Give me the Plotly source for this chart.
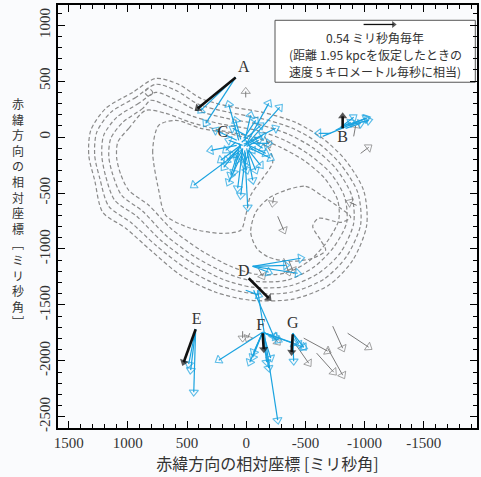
import plotly.graph_objects as go

# ---------------- data (milli-arcseconds) ----------------
x_ticks = [1500, 1000, 500, 0, -500, -1000, -1500]
x_ticktext = ["1500", "1000", "500", "0", "-500", "-1000", "-1500"]
y_ticks = [1000, 500, 0, -500, -1000, -1500, -2000, -2500]
y_ticktext = ["1000", "500", "0", "-500", "-1000", "-1500", "-2000", "-2500"]

# dashed contours
c1_x = [764, 959, 1187, 1313, 1330, 1280, 1212, 1018, 807, 553, 258, -38, -393, -697, -900, -1018, -992, -840, -646, -418, -139, 148, 384, 570, 764]
c1_y = [524, 399, 256, 60, -163, -387, -672, -815, -1012, -1235, -1387, -1458, -1449, -1324, -1101, -788, -476, -208, -12, 131, 221, 274, 346, 471, 524]
c2_x = [764, 933, 1144, 1263, 1280, 1237, 1161, 976, 764, 511, 232, -38, -376, -655, -849, -967, -942, -798, -612, -393, -122, 148, 401, 595, 764]
c2_y = [471, 354, 221, 42, -163, -369, -619, -762, -967, -1172, -1324, -1396, -1387, -1271, -1065, -780, -494, -244, -56, 78, 167, 221, 292, 417, 471]
c3_x = [764, 908, 1094, 1204, 1220, 1187, 1111, 925, 722, 469, 198, -55, -359, -612, -798, -908, -891, -756, -570, -359, -106, 165, 418, 621, 764]
c3_y = [399, 301, 176, 15, -163, -351, -565, -708, -922, -1119, -1271, -1342, -1333, -1217, -1030, -771, -521, -279, -101, 24, 113, 167, 238, 346, 399]
c4_x = [807, 874, 1043, 1144, 1161, 1128, 1052, 874, 680, 427, 165, -63, -342, -570, -739, -849, -832, -714, -528, -325, -89, 198, 452, 655, 807]
c4_y = [328, 256, 131, -12, -172, -333, -521, -663, -878, -1074, -1217, -1288, -1280, -1163, -985, -762, -538, -324, -154, -29, 60, 113, 185, 274, 328]
c5_x = [849, 992, 1085, 1094, 1060, 992, 823, 638, 384, 131, -80, -325, -528, -680, -781, -773, -663, -486, -291, -72, 215, 469, 680, 849]
c5_y = [238, 78, -47, -190, -333, -476, -610, -815, -1012, -1155, -1226, -1217, -1110, -940, -744, -565, -369, -208, -92, -3, 60, 131, 212, 238]
c6_x = [739, 790, 739, 680, 469, 215, 46, 4, -38, -139, -224, -190, -55, 148, 384, 595, 739]
c6_y = [104, -119, -476, -699, -815, -860, -833, -699, -521, -369, -226, -101, -29, 33, 78, 149, 104]
c7_x = [-334, -503, -646, -798, -883, -798, -612, -562, -629, -671, -562, -376, -190, -89, -38, -80, -190, -334]
c7_y = [-476, -440, -529, -637, -717, -762, -726, -797, -922, -1012, -1083, -1110, -1074, -994, -851, -672, -547, -476]
c8_x = [823, 790, 823, 857, 823]
c8_y = [435, 399, 363, 399, 435]

# blue proper-motion arrows: start (x0, y0) -> end (x1, y1)
blue_x0 = [89, 89,
           63, 4, -13, 46, 30, 13, -4, -21, -38, 46, 63, 80, 21, 38, 55, 4, -13, 80, 21, 13, 46, 30, -21, 89, -38, 21, 63, 4, -38, 38,
           46, 4, 63, -30, 30, -4, 46, 80,
           -646, -798, -815, -840, -756, -714, -866,
           -55, -55, -55, -55, 4, -63, -97,
           427, 427, 427,
           -139, -139, -139, -139, -139, -139, -139, -139, -139, -139, -139,
           -393, -393, -393]
blue_y0 = [533, 533,
           -29, -74, -56, -119, -101, -119, -101, -74, -56, -74, -101, -29, -12, -47, -83, -137, -119, -74, -83, -38, -21, -137, -119, -47, -101, -65, -137, 15, -29, -119,
           -74, -29, -56, -92, -74, -83, -137, -119,
           6, 87, 96, 78, 60, 33, 104,
           -1155, -1155, -1155, -1155, -1369, -1369, -1369,
           -1717, -1717, -1717,
           -1744, -1744, -1744, -1744, -1744, -1744, -1744, -1744, -1744, -1744, -1744,
           -1753, -1753, -1753]
blue_x1 = [342, 384,
           148, -190, -283, 443, 72, -13, -55, -165, -190, 215, 190, 258, -80, -122, 131, 46, -80, 300, -139, -38, 89, 148, -122, 173, -207, -249, 106, 114, -139, 80,
           114, -55, 4, 13, 148, -106, -4, 165,
           -1009, -908, -1018, -967, -883, -612, -1035,
           -460, -435, -190, -334, -106, -232, -266,
           469, 443, 486,
           232, -30, -55, -63, -190, -207, -274, -249, -486, -401, -173,
           -401, -486, -443]
blue_y1 = [122, 238,
           292, 301, 265, -431, -458, -628, -387, -146, -56, -208, -271, 60, 149, 104, -342, -521, -297, -119, 15, 194, 149, -404, -253, -119, -190, 78, -315, 78, -101, -208,
           -163, -119, -208, -253, -29, -29, -297, -208,
           167, 176, 167, 122, 131, 33, 149,
           -1083, -1217, -1208, -1146, -1413, -1780, -2530,
           -2083, -2280, -2029,
           -1994, -2012, -1967, -1922, -2065, -1976, -1815, -1788, -1878, -1842, -2012,
           -2003, -1878, -1851]

# black (mean motion) arrows
black_x0 = [89, -815, -21, 427, -139, -393]
black_y0 = [533, 78, -1262, -1717, -1753, -1762]
black_x1 = [410, -815, -190, 528, -148, -384]
black_y1 = [256, 185, -1440, -2012, -1896, -1922]

# gray arrows
gray_x0 = [4, -156, -232, -266, -908, -967, -933, -317, -359, -106, 30, -30, -224, -486, -731, -857, -688, -595, -410]
gray_y0 = [354, 6, -538, -708, 6, -146, -610, -1083, -1101, -1181, -1735, -1753, -1780, -1797, -1690, -1753, -1887, -1931, -1842]
gray_x1 = [4, -190, -224, -317, -925, -1035, -874, -359, -393, -139, 30, -13, -266, -688, -815, -1035, -815, -739, -528]
gray_y1 = [408, -65, -592, -833, 104, -92, -583, -1208, -1190, -1244, -1797, -1797, -1833, -1913, -1887, -1878, -2128, -2101, -2021]

# group labels
label_text = ["A", "B", "C", "D", "E", "F", "G"]
label_x = [21, -815, 198, 21, 418, -122, -393]
label_y = [613, -12, 33, -1208, -1637, -1690, -1672]

# scale arrow (0.54 mas/yr)
scale_x = [-992, -1246]
scale_y = [1006, 1006]

# key text lines
key_lines = ["0.54 ミリ秒角毎年", "(距離 1.95 kpcを仮定したときの", "速度 5 キロメートル毎秒に相当)"]

# ---------------- figure ----------------
BLUE = "#1aa3e0"
GRAY = "#7a7a7a"
BG = "#fafbfd"

fig = go.Figure()

contours = [(c1_x, c1_y), (c2_x, c2_y), (c3_x, c3_y), (c4_x, c4_y), (c5_x, c5_y),
            (c6_x, c6_y), (c7_x, c7_y), (c8_x, c8_y)]
for cx, cy in contours:
    fig.add_trace(go.Scatter(x=cx, y=cy, mode="lines",
                             line=dict(color="#8a8a8a", width=1.2, dash="4px,2.5px",
                                       shape="spline", smoothing=0.8),
                             hoverinfo="skip", showlegend=False))


def arrow(x0, y0, x1, y1, color, lw, syms, sizes, mlw):
    fig.add_trace(go.Scatter(
        x=[x0, x1], y=[y0, y1], mode="lines+markers",
        line=dict(color=color, width=lw),
        marker=dict(symbol=syms, size=sizes, color=color, angleref="previous",
                    line=dict(color=color, width=mlw)),
        hoverinfo="skip", showlegend=False))


for i in range(len(gray_x0)):
    arrow(gray_x0[i], gray_y0[i], gray_x1[i], gray_y1[i], GRAY, 1.0,
          ["circle-open", "triangle-up-open"], [6, 8], 1.0)

for i in range(len(blue_x0)):
    arrow(blue_x0[i], blue_y0[i], blue_x1[i], blue_y1[i], BLUE, 1.2,
          ["circle-open", "triangle-up-open"], [6, 8], 1.1)

for i in range(len(black_x0)):
    arrow(black_x0[i], black_y0[i], black_x1[i], black_y1[i], "#111111", 2.6,
          ["circle", "triangle-up"], [1, 8], 0)

# scale arrow in the key box
arrow(scale_x[0], scale_y[0], scale_x[1], scale_y[1], "#111111", 1.3,
      ["circle", "triangle-up"], [5, 6], 0)

fig.add_trace(go.Scatter(x=label_x, y=label_y, mode="text", text=label_text,
                         textfont=dict(family="Liberation Serif", size=16, color="#333333"),
                         hoverinfo="skip", showlegend=False))

# ---------------- layout ----------------
L, T, W, H = 58.3, 4.7, 418.4, 423.3


def px2paper(px, py):
    return (px - L) / W, (T + H - py) / H


shapes = []
bx0, by0 = px2paper(275, 82)
bx1, by1 = px2paper(475, 20)
shapes.append(dict(type="rect", xref="paper", yref="paper", x0=bx0, y0=by0, x1=bx1, y1=by1,
                   line=dict(color="#555555", width=1), fillcolor="white", layer="below"))

annotations = []
for k, txt in enumerate(key_lines):
    ax_, ay_ = px2paper(375, 37 + 17.2 * k)
    annotations.append(dict(xref="paper", yref="paper", x=ax_, y=ay_, text=txt, showarrow=False,
                            xanchor="center", yanchor="middle",
                            font=dict(family="Noto Sans CJK JP", size=12, color="#333333")))

ytitle_chars = ["赤", "緯", "方", "向", "の", "相", "対", "座", "標", "﹇", "ミ", "リ", "秒", "角", "﹈"]
ax_, ay_ = px2paper(18, 212)
annotations.append(dict(xref="paper", yref="paper", x=ax_, y=ay_, text="<br>".join(ytitle_chars),
                        showarrow=False, xanchor="center", yanchor="middle",
                        font=dict(family="Noto Sans CJK JP", size=12, color="#333333")))

axis_common = dict(showgrid=False, zeroline=False, showline=True, linecolor="black",
                   linewidth=1.5, mirror="ticks", ticks="inside", ticklen=7, tickwidth=1.2,
                   tickcolor="black",
                   tickfont=dict(family="Liberation Serif", size=15, color="#333333"))

fig.update_layout(
    width=481, height=477, autosize=False,
    margin=dict(l=58, r=4, t=5, b=49),
    paper_bgcolor=BG, plot_bgcolor=BG,
    showlegend=False,
    shapes=shapes, annotations=annotations,
    xaxis=dict(range=[1590, -1950], tickvals=x_ticks, ticktext=x_ticktext,
               minor=dict(dtick=100, ticks="inside", ticklen=4, tickwidth=1, tickcolor="black"),
               title=dict(text="赤緯方向の相対座標 [ミリ秒角]", standoff=6,
                          font=dict(family="Noto Sans CJK JP", size=16, color="#333333")),
               automargin=False, **axis_common),
    yaxis=dict(range=[-2600, 1180], tickvals=y_ticks, ticktext=y_ticktext, tickangle=-90,
               minor=dict(dtick=100, ticks="inside", ticklen=4, tickwidth=1, tickcolor="black"),
               automargin=False, **axis_common),
)

fig.write_html("out.html", config={"displayModeBar": False},
               post_script="document.body.style.margin='0px';")
